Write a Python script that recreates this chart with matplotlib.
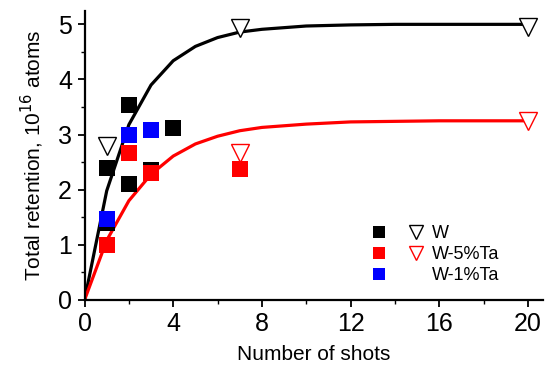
import matplotlib
matplotlib.use('Agg')
import matplotlib.pyplot as plt
from matplotlib.lines import Line2D
from matplotlib.legend_handler import HandlerTuple

plt.rcParams['font.family'] = ['Liberation Sans', 'DejaVu Sans']

# measured data (squares)
w_x = [1, 1, 2, 2, 3, 4]
w_y = [2.4, 1.4, 3.53, 2.1, 2.36, 3.12]
w5_x = [1, 2, 3, 7]
w5_y = [1.0, 2.67, 2.3, 2.37]
w1_x = [1, 2, 3]
w1_y = [1.47, 3.0, 3.08]

# open triangles
tri_w_x = [1, 7, 20]
tri_w_y = [2.8, 4.93, 4.96]
tri_w5_x = [7, 20]
tri_w5_y = [2.67, 3.24]

# fitted curves
fit_x = [0, 1, 2, 3, 4, 5, 6, 7, 8, 10, 12, 14, 16, 18, 20]
fit_w = [0, 1.98, 3.18, 3.90, 4.34, 4.60, 4.76, 4.86, 4.91, 4.97, 4.99, 5.0, 5.0, 5.0, 5.0]
fit_w5 = [0, 1.08, 1.80, 2.28, 2.61, 2.83, 2.97, 3.07, 3.13, 3.19, 3.23, 3.24, 3.25, 3.25, 3.25]

labels = ['W', 'W-5%Ta', 'W-1%Ta']

fig = plt.figure(figsize=(5.49, 3.74), dpi=100)
ax = fig.add_axes([0.154, 0.198, 0.835, 0.773])

ax.plot(fit_x, fit_w, color='black', lw=2.3)
ax.plot(fit_x, fit_w5, color='red', lw=2.3)

sq = dict(marker='s', linestyle='none', markersize=11.5, markeredgewidth=0)
tr = dict(marker='v', linestyle='none', markersize=12.5, markerfacecolor='white', markeredgewidth=1.0)

h_w, = ax.plot(w_x, w_y, color='black', **sq)
h_w5, = ax.plot(w5_x, w5_y, color='red', **sq)
h_w1, = ax.plot(w1_x, w1_y, color='blue', **sq)
t_w, = ax.plot(tri_w_x, tri_w_y, color='black', **tr)
t_w5, = ax.plot(tri_w5_x, tri_w5_y, color='red', **tr)

blank = Line2D([], [], linestyle='none')
ax.legend(handles=[(h_w, t_w), (h_w5, t_w5), (h_w1, blank)], labels=labels,
          handler_map={tuple: HandlerTuple(ndivide=None, pad=1.1)},
          frameon=False, fontsize=13, markerscale=0.8, handlelength=3.0,
          handletextpad=0.4, labelspacing=0.22, borderpad=0.3,
          loc='center left', bbox_to_anchor=(0.592, 0.156))

ax.set_xlim(0, 20.68)
ax.set_ylim(0, 5.245)
ax.set_xticks([0, 4, 8, 12, 16, 20])
ax.set_xticks([2, 6, 10, 14, 18], minor=True)
ax.set_yticks([0, 1, 2, 3, 4, 5])
ax.set_yticks([0.5, 1.5, 2.5, 3.5, 4.5], minor=True)

for s in ['top', 'right']:
    ax.spines[s].set_visible(False)
for s in ['left', 'bottom']:
    ax.spines[s].set_linewidth(1.6)
ax.tick_params(which='major', direction='out', length=5, width=1.3, labelsize=18, pad=4)
ax.tick_params(which='minor', direction='out', length=3, width=1.0)

ax.set_xlabel('Number of shots', fontsize=15, labelpad=6)
ax.set_ylabel('Total retention, 10$^{16}$ atoms', fontsize=15, labelpad=9)

fig.savefig('out.png', dpi=100)
